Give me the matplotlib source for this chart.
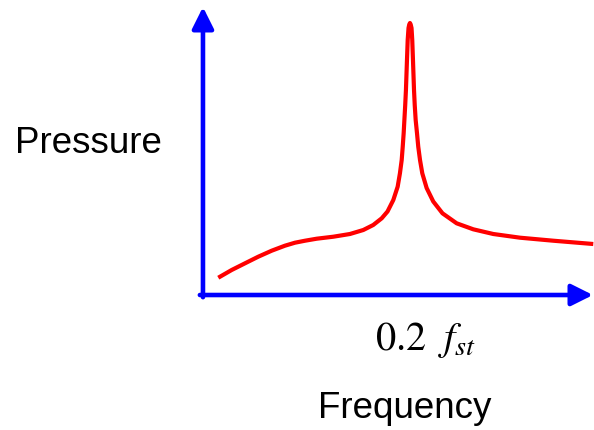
import matplotlib
matplotlib.use("Agg")
import matplotlib.pyplot as plt

# Frequency (in units of f_st) and pressure (arbitrary, peak = 1)
freq = [0.0148, 0.0277, 0.0406, 0.0534, 0.0664, 0.0792, 0.0889, 0.0986,
        0.1099, 0.1259, 0.1420, 0.1549, 0.1645, 0.1727, 0.1783, 0.1839,
        0.1881, 0.1903, 0.1920, 0.1930, 0.1939, 0.1946, 0.1954, 0.1961,
        0.1971, 0.1978, 0.1986, 0.1993, 0.2000, 0.2007, 0.2015, 0.2022,
        0.2029, 0.2039, 0.2046, 0.2055, 0.2068, 0.2080, 0.2097, 0.2119,
        0.2161, 0.2225, 0.2314, 0.2451, 0.2612, 0.2805, 0.3063, 0.3385,
        0.3771]
pressure = [0.0636, 0.0919, 0.1165, 0.1408, 0.1629, 0.1813, 0.1923, 0.1996,
            0.2070, 0.2143, 0.2243, 0.2390, 0.2574, 0.2820, 0.3070, 0.3493,
            0.3982, 0.4474, 0.4963, 0.5452, 0.5945, 0.6434, 0.6985, 0.7537,
            0.8640, 0.9375, 0.9816, 0.9945, 1.0000, 0.9945, 0.9816, 0.9375,
            0.8640, 0.7537, 0.6985, 0.6434, 0.5945, 0.5452, 0.4963, 0.4474,
            0.3934, 0.3438, 0.3004, 0.2636, 0.2415, 0.2243, 0.2107, 0.1996,
            0.1875]

x_label = "Frequency"
y_label = "Pressure"
peak_label = r"$0.2\;\ f_{st}$"

plt.rcParams['mathtext.fontset'] = 'stix'

fig = plt.figure(figsize=(5.94, 4.30), dpi=100)
ax = fig.add_axes([0, 0, 1, 1])
ax.set_xlim(-0.1961, 0.3778)
ax.set_ylim(-0.4963, 1.0846)
ax.axis('off')

blue = '#0000FF'
# axes arrows
ax.annotate('', xy=(0, 1.0588), xytext=(0, -0.008),
            arrowprops=dict(arrowstyle='-|>,head_length=13,head_width=6.5',
                            mutation_scale=1, color=blue, lw=3.3,
                            shrinkA=0, shrinkB=0))
ax.annotate('', xy=(0.3768, 0), xytext=(-0.003, 0),
            arrowprops=dict(arrowstyle='-|>,head_length=13,head_width=6.5',
                            mutation_scale=1, color=blue, lw=3.3,
                            shrinkA=0, shrinkB=0))

ax.plot(freq, pressure, color='#FF0000', lw=3.0, solid_joinstyle='round',
        solid_capstyle='butt')

ax.text(-0.1816, 0.522, y_label, fontsize=26.5, family='Liberation Sans',
        ha='left', va='baseline')
ax.text(0.1952, -0.4522, x_label, fontsize=26.5, family='Liberation Sans',
        ha='center', va='baseline')
ax.text(0.2145, -0.202, peak_label, fontsize=29, ha='center', va='baseline')

fig.savefig('out.png', dpi=100)
